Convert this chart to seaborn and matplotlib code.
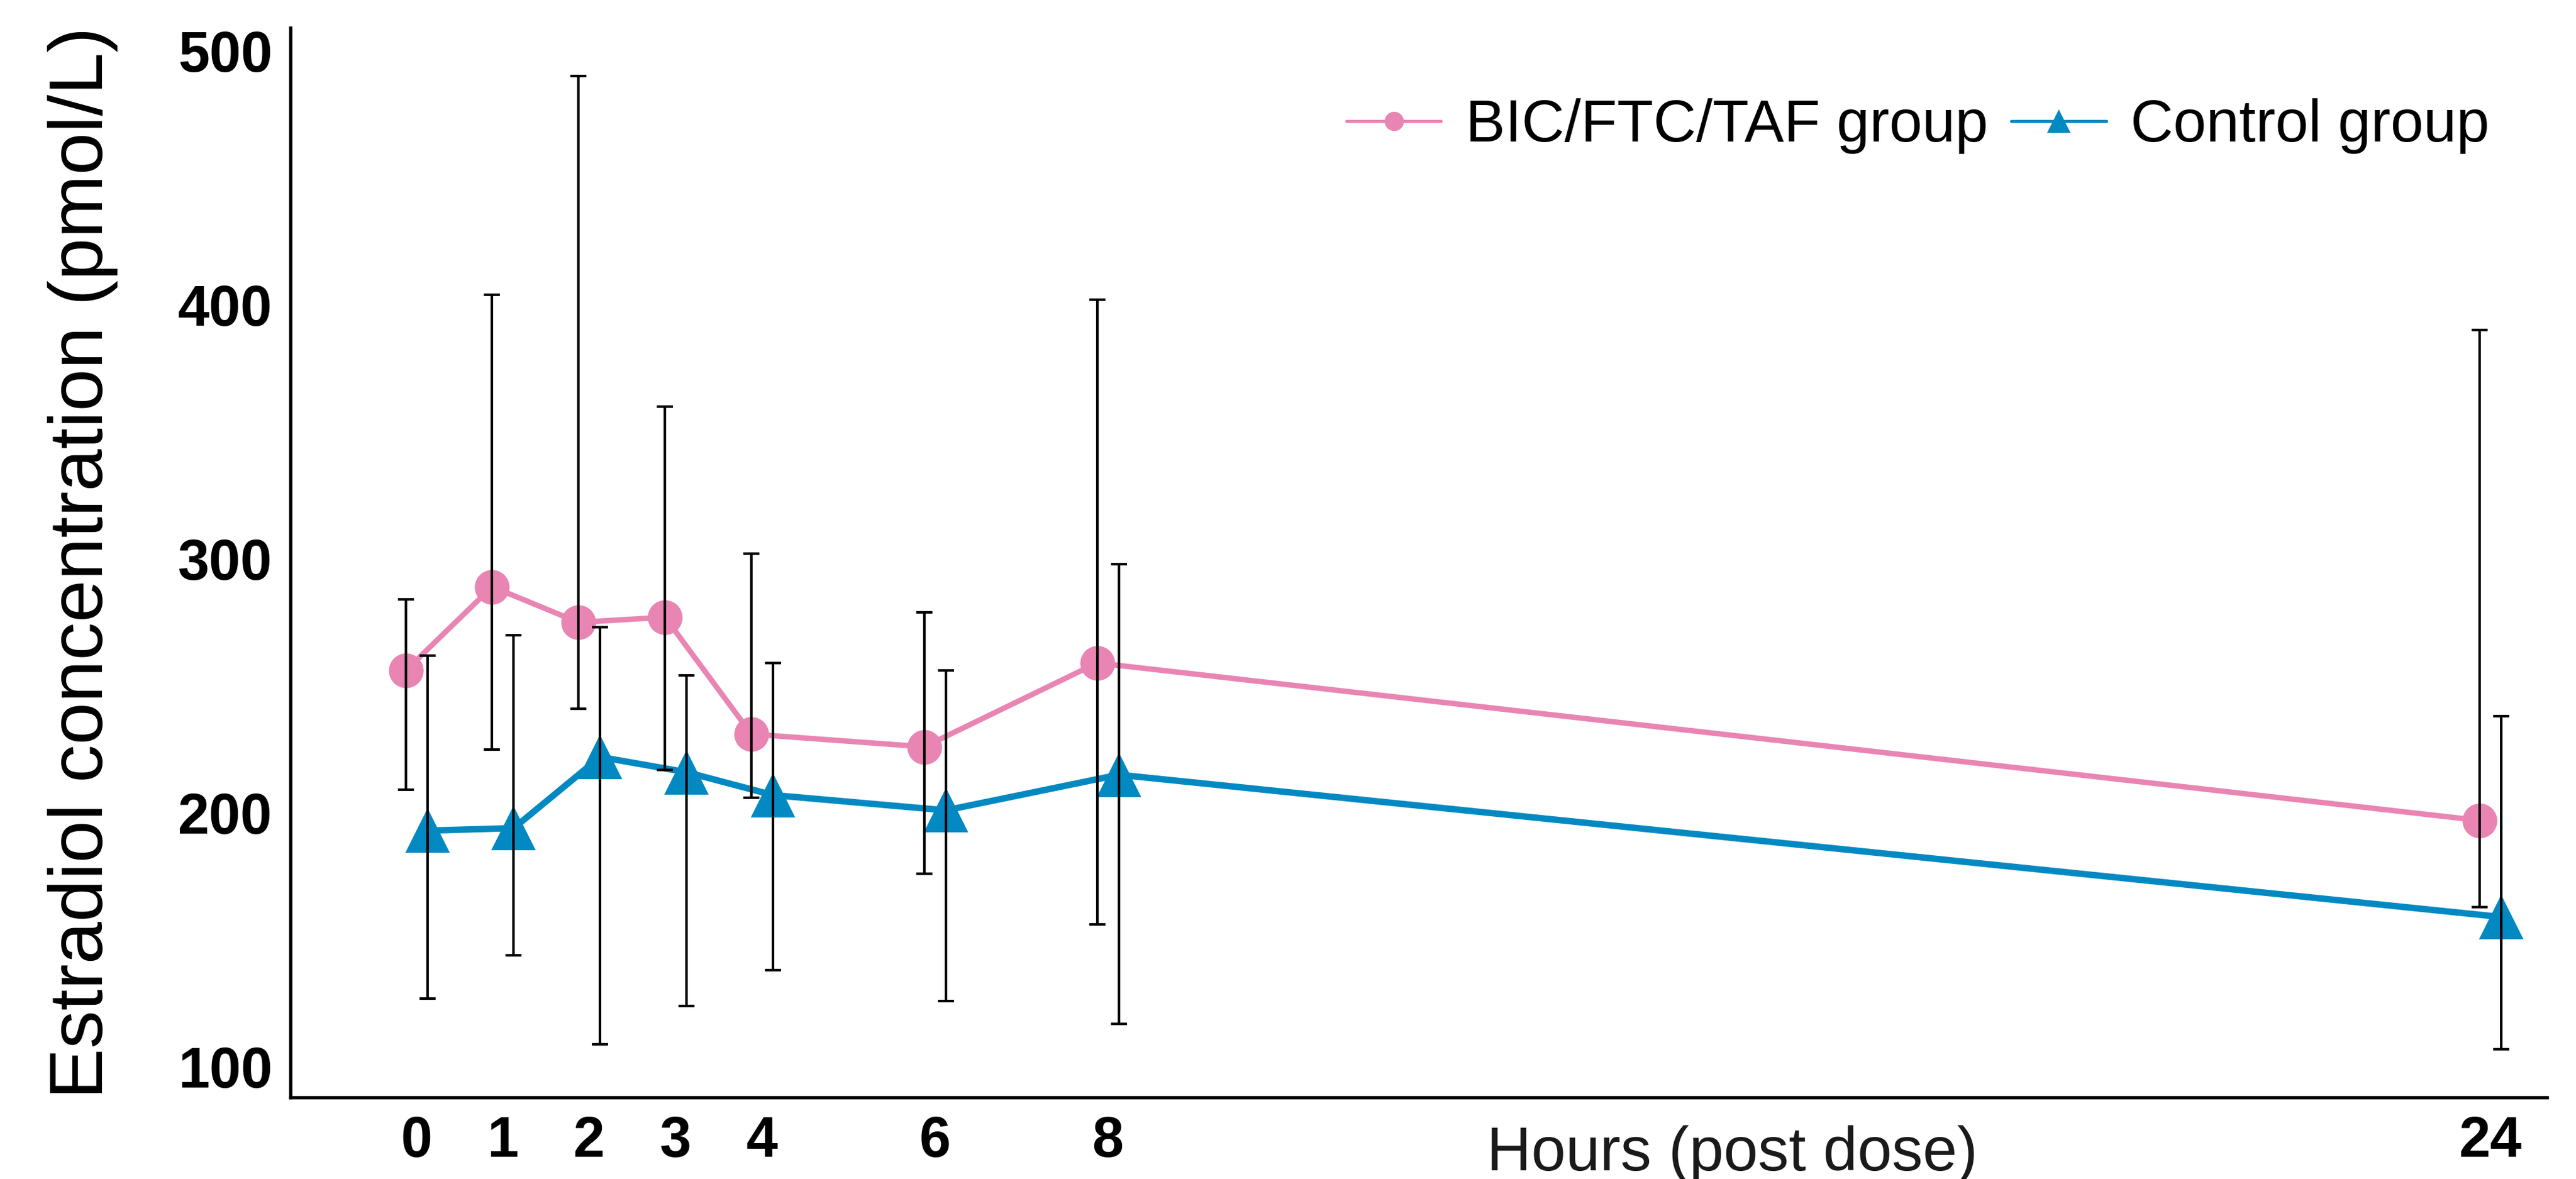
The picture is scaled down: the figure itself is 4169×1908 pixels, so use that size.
import matplotlib
matplotlib.use("Agg")
import matplotlib.pyplot as plt
from matplotlib.lines import Line2D
import numpy as np
import pandas as pd
import seaborn as sns

# Data
hours = [0, 1, 2, 3, 4, 6, 8, 24]
groups = ["BIC/FTC/TAF group", "Control group"]

bic_mean = [256, 289, 275, 277, 231, 226, 259, 197]
bic_lo = [209, 225, 241, 217, 206, 176, 156, 163]
bic_hi = [284, 404, 490, 360, 302, 279, 402, 390]

ctrl_mean = [193, 194, 222, 216, 207, 201, 215, 159]
ctrl_lo = [127, 144, 109, 124, 138, 126, 117, 107]
ctrl_hi = [262, 270, 273, 254, 259, 256, 298, 238]

# Style
sns.set_style("white")
plt.rcParams["font.family"] = ["Liberation Sans", "DejaVu Sans"]
plt.rcParams["text.color"] = "black"
plt.rcParams["axes.labelcolor"] = "black"
plt.rcParams["xtick.color"] = "black"
plt.rcParams["ytick.color"] = "black"

colors = {"BIC/FTC/TAF group": "#E985B3", "Control group": "#0389C2"}
markers = {"BIC/FTC/TAF group": "o", "Control group": "^"}
dodge = {"BIC/FTC/TAF group": -0.125, "Control group": 0.125}
widths = {"BIC/FTC/TAF group": 2.1, "Control group": 2.5}
msizes = {"BIC/FTC/TAF group": 13.5, "Control group": 17.5}

frames = []
for g, m, lo, hi in [(groups[0], bic_mean, bic_lo, bic_hi),
                     (groups[1], ctrl_mean, ctrl_lo, ctrl_hi)]:
    frames.append(pd.DataFrame({"hours": hours, "value": m, "lo": lo,
                                "hi": hi, "group": g}))
df = pd.concat(frames, ignore_index=True)
df["xpos"] = df["hours"] + df["group"].map(dodge)

fig = plt.figure(figsize=(4169 / 300, 1908 / 300), dpi=300)
ax = fig.add_axes([0.1127, 0.0692, 0.876, 0.9072])

for g in groups:
    sub = df[df["group"] == g]
    sns.lineplot(data=sub, x="xpos", y="value", ax=ax, color=colors[g],
                 marker=markers[g], markersize=msizes[g], markeredgewidth=0,
                 linewidth=widths[g], legend=False, zorder=3)
    ax.errorbar(sub["xpos"], sub["value"],
                yerr=[sub["value"] - sub["lo"], sub["hi"] - sub["value"]],
                fmt="none", ecolor="black", elinewidth=1.0, capsize=3.2,
                capthick=1.0, zorder=5)

ax.set_xlim(-1.46, 24.65)
ax.set_ylim(88, 509)
ax.set_xticks(hours)
ax.set_xticklabels([str(h) for h in hours])
ax.set_yticks([100, 200, 300, 400, 500])
ax.tick_params(axis="both", length=0, labelsize=22, pad=7)
for lab in ax.get_xticklabels() + ax.get_yticklabels():
    lab.set_fontweight("bold")

sns.despine(ax=ax)
for s in ["left", "bottom"]:
    ax.spines[s].set_color("black")
    ax.spines[s].set_linewidth(1.3)

ax.set_ylabel("Estradiol concentration (pmol/L)", fontsize=29.5, va="center")
ax.yaxis.set_label_coords(-0.092, 0.5)
ax.set_xlabel("Hours (post dose)", fontsize=24, color="#1a1a1a", va="top")
ax.xaxis.set_label_coords(0.639, -0.026)

handles = [Line2D([], [], color=colors[g], marker=markers[g],
                  markersize=7.5 if g == groups[0] else 9,
                  markeredgewidth=0, linewidth=1.2) for g in groups]
ax.legend(handles, groups, loc="center left", bbox_to_anchor=(0.468, 0.908),
          ncol=2, frameon=False, fontsize=23, handlelength=1.6,
          handletextpad=0.41, columnspacing=0.4, borderpad=0,
          borderaxespad=0)

fig.savefig("out.png", dpi=300)
